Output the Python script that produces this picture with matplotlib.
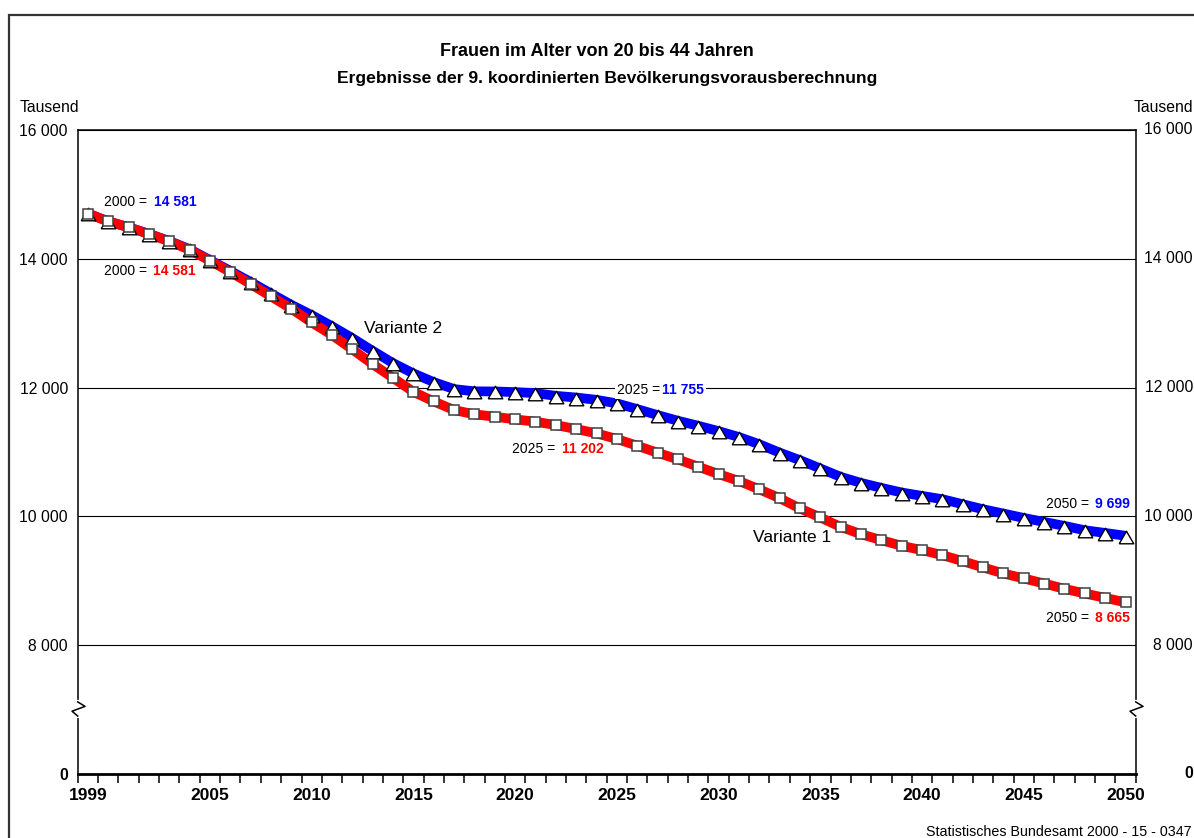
import numpy as np
import matplotlib
matplotlib.use('Agg')
import matplotlib.pyplot as plt
from matplotlib.patches import Rectangle
import matplotlib.transforms as mtrans

plt.rcParams['font.family'] = ['Liberation Sans', 'DejaVu Sans']

years = np.arange(1999, 2051)
# Variante 1 (rot, Quadrate)
var1 = [14700, 14581, 14489, 14385, 14271, 14140, 13970, 13794, 13608, 13416,
        13224, 13012, 12815, 12592, 12364, 12150, 11934, 11785, 11651, 11585,
        11548, 11507, 11470, 11418, 11356, 11289, 11202, 11097, 10988, 10885,
        10771, 10657, 10550, 10420, 10283, 10123, 9983, 9837, 9724, 9631,
        9543, 9476, 9398, 9305, 9207, 9114, 9036, 8958, 8875, 8803,
        8735, 8665]
# Variante 2 (blau, Dreiecke)
var2 = [14705, 14581, 14490, 14388, 14276, 14150, 13980, 13812, 13640, 13462,
        13285, 13126, 12952, 12768, 12570, 12380, 12220, 12085, 11977, 11942,
        11940, 11930, 11914, 11872, 11846, 11810, 11755, 11666, 11573, 11485,
        11407, 11324, 11232, 11120, 10990, 10873, 10744, 10614, 10520, 10443,
        10371, 10318, 10267, 10189, 10111, 10044, 9976, 9914, 9852, 9785,
        9743, 9699]

# y axis is broken: bottom "0" sits where 6000 would be
ytick_vals = [6000, 8000, 10000, 12000, 14000, 16000]
ytick_labels = ['0', '8 000', '10 000', '12 000', '14 000', '16 000']
xtick_vals = [1999, 2005, 2010, 2015, 2020, 2025, 2030, 2035, 2040, 2045, 2050]

W, H = 1194, 838
fig = plt.figure(figsize=(W / 100, H / 100), dpi=100)
ax = fig.add_axes([77.7 / W, 1 - 774 / H, (1135.7 - 77.7) / W, (774 - 130) / H])

# wide triangle like the original, sitting a little low on the line
tri = [(-1, -1), (1, -1), (0, 0.72), (-1, -1)]

ax.plot(years, var2, color='#0000ff', lw=7, solid_capstyle='butt', zorder=3)
ax.plot(years, var1, color='#ff0000', lw=7, solid_capstyle='butt', zorder=4)
ax.plot(years, var2, ls='none', marker=tri, ms=10.5, mfc='white', mec='black',
        mew=1.0, zorder=5, clip_on=False)
ax.plot(years, var1, ls='none', marker='s', ms=7.9, mfc='white', mec='#404040',
        mew=1.1, zorder=6, clip_on=False)

ax.set_xlim(1998.5, 2050.5)
ax.set_ylim(6000, 16000)

ax.set_yticks(ytick_vals)
ax.set_yticklabels(ytick_labels)
ax.tick_params(axis='y', length=0, pad=7, labelsize=11.3)
ax.get_yticklabels()[0].set_fontweight('bold')
ax.yaxis.grid(True, color='black', lw=0.8)
ax.set_axisbelow(True)

# right hand labels
rt = mtrans.blended_transform_factory(fig.transFigure, ax.transData)
for v, lab in zip(ytick_vals, ytick_labels):
    fig.text(1193 / W, v, lab, transform=rt, ha='right', va='center',
             fontsize=11.3, fontweight='bold' if lab == '0' else 'normal')

ax.set_xticks(xtick_vals)
ax.set_xticklabels([str(y) for y in xtick_vals], fontweight='bold', fontsize=12.5)
ax.set_xticks(np.arange(1998.5, 2051, 1), minor=True)
ax.tick_params(axis='x', which='major', length=0, pad=10)
ax.tick_params(axis='x', which='minor', length=6.5, width=1.1, direction='out')

for s in ['left', 'right', 'top']:
    ax.spines[s].set_linewidth(1.1)
ax.spines['bottom'].set_linewidth(2.0)

# axis break marks
for xb in [1998.5, 2050.5]:
    ax.plot([xb, xb], [6900, 7120], color='white', lw=3, zorder=10, clip_on=False)
    ax.plot([xb, xb + 0.36, xb - 0.28, xb],
            [7120, 7050, 6975, 6900], color='black', lw=1.1, zorder=11,
            clip_on=False)

# outer frame
fig.add_artist(Rectangle((9 / W, -0.1), 1.2, 1.1 - 15 / H, transform=fig.transFigure,
                         fill=False, ec='#333333', lw=1.6))

def ftext(px, py, s, **kw):
    return fig.text(px / W, 1 - py / H, s, va='center', **kw)

ftext(597, 52, 'Frauen im Alter von 20 bis 44 Jahren', ha='center',
      fontsize=13, fontweight='bold')
ftext(607, 78, 'Ergebnisse der 9. koordinierten Bevölkerungsvorausberechnung',
      ha='center', fontsize=12.6, fontweight='bold')
ftext(20, 108, 'Tausend', ha='left', fontsize=11.3)
ftext(1193, 108, 'Tausend', ha='right', fontsize=11.3)
ftext(926, 832, 'Statistisches Bundesamt 2000 - 15 - 0347', ha='left', fontsize=10.3)

wb = dict(facecolor='white', edgecolor='none', pad=1.5)
labels = [
    (104, 154, 202, '2000 =', '14 581', '#0000ff', None),
    (104, 153, 271, '2000 =', '14 581', '#ff0000', None),
    (617, 662, 390, '2025 =', '11 755', '#0000ff', wb),
    (512, 562, 449, '2025 =', '11 202', '#ff0000', None),
    (1046, 1095, 504, '2050 =', '9 699', '#0000ff', wb),
    (1046, 1095, 618, '2050 =', '8 665', '#ff0000', None),
]
for x1, x2, py, a, b, col, bb in labels:
    ftext(x1, py, a, ha='left', fontsize=10, bbox=bb, zorder=7)
    ftext(x2, py, b, ha='left', fontsize=10, fontweight='bold', color=col,
          bbox=bb, zorder=8)

ftext(364, 328, 'Variante 2', ha='left', fontsize=12.5)
ftext(753, 538, 'Variante 1', ha='left', fontsize=12.5)

fig.savefig('out.png', dpi=100)
